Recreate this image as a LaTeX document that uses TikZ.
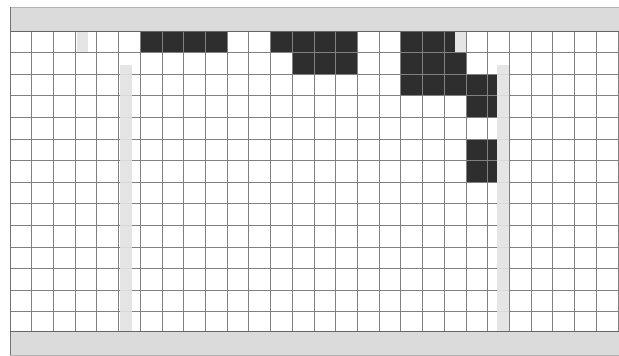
\documentclass[tikz,border=0pt]{standalone}
\begin{document}
\begin{tikzpicture}[x=1pt,y=-1pt,
  band/.style={fill=black!14,draw=black!30,line width=0.8pt},
  gridline/.style={draw=black!50,line width=0.9pt},
  darkcell/.style={fill=black!82},
  lightbar/.style={fill=black!11}]
\useasboundingbox (0,0) rectangle (619,356);
\fill[white] (0,0) rectangle (619,356);
\def\cw{21.714}
\def\rh{21.6}
\def\xo{10}
\def\yo{31}
% full dark cells
\foreach \c/\r in {6/0,7/0,8/0,9/0,12/0,13/0,14/0,15/0,18/0,19/0,
                   13/1,14/1,15/1,18/1,19/1,20/1,
                   18/2,19/2,20/2,21/2,
                   21/3,21/5,21/6}
  \fill[darkcell] ({\xo+\c*\cw},{\yo+\r*\rh}) rectangle ({\xo+(\c+1)*\cw},{\yo+(\r+1)*\rh});
% partial dark cells
\fill[darkcell] ({\xo+20*\cw},{\yo}) rectangle ({\xo+20.48*\cw},{\yo+\rh});
\foreach \r in {2,3,5,6}
  \fill[darkcell] ({\xo+22*\cw},{\yo+\r*\rh}) rectangle ({\xo+22.43*\cw},{\yo+(\r+1)*\rh});
% grid
\foreach \i in {0,...,28}
  \draw[gridline] ({\xo+\i*\cw},\yo) -- ({\xo+\i*\cw},331);
\foreach \j in {0,...,13}
  \draw[gridline] (\xo,{\yo+\j*\rh}) -- (618,{\yo+\j*\rh});
% light bars
\fill[lightbar,opacity=0.9] (77,31.5) rectangle (87.5,52.2);
\fill[lightbar,opacity=0.9] (455,31.5) rectangle (466,52.2);
\fill[lightbar,opacity=0.9] (120,65) rectangle (131.5,331);
\fill[lightbar,opacity=0.9] (497,65) rectangle (508.5,331);
% bands
\filldraw[band] (10,7) rectangle (619,31);
\filldraw[band] (10,331) rectangle (619,355);
\draw[black!55,line width=1pt] (10,7) -- (10,355);
\draw[black!60,line width=1pt] (10,331) -- (619,331);
\draw[black!60,line width=1pt] (10,31) -- (619,31);
\end{tikzpicture}
\end{document}
